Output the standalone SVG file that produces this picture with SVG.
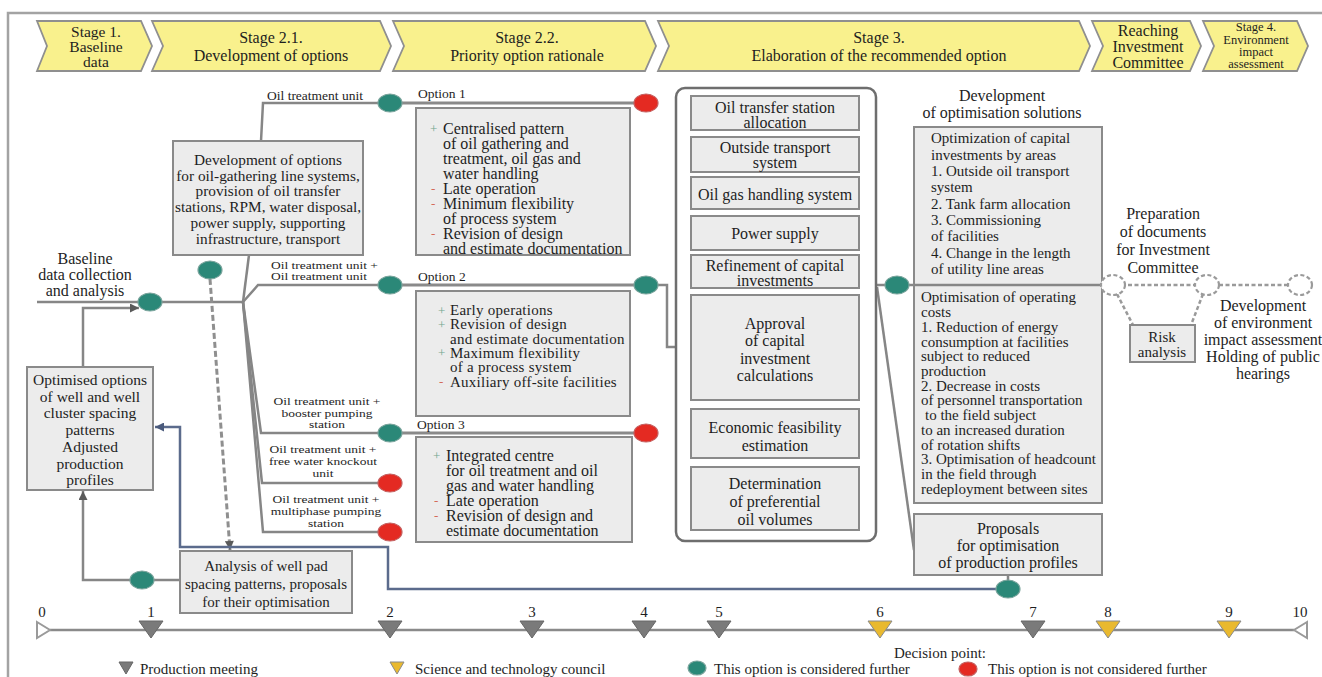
<svg xmlns="http://www.w3.org/2000/svg" width="1322" height="677" viewBox="0 0 1322 677">
<defs>
<style>
.t{font-family:"Liberation Serif","Times New Roman",serif;fill:#1e1e1e;dominant-baseline:central}
.m{text-anchor:middle}
.box{fill:#ececec;stroke:#8a8a8a;stroke-width:2}
.chev{fill:#f9f18d;stroke:#8f8f8f;stroke-width:1.8}
.ln{fill:none;stroke:#868686;stroke-width:2.5}
.opt{fill:none;stroke:#8a8a8a;stroke-width:3.2}
.go{fill:#2b8878;stroke:#7aa49c;stroke-width:1.2}
.no{fill:#e42a22;stroke:#c46060;stroke-width:1.2}
.dc{fill:#fff;stroke:#9a9a9a;stroke-width:2.2;stroke-dasharray:4 2.5}
.dl{fill:none;stroke:#9a9a9a;stroke-width:2.5;stroke-dasharray:4 2.5}
.tri{fill:#7a7a7a;stroke:#666;stroke-width:1}
.try{fill:#e9b92f;stroke:#8a8a8a;stroke-width:1}
.pl{fill:#6fa58f;font-size:13px}
.mi{fill:#d46a5a;font-size:13px}
</style>
<marker id="ag" viewBox="0 0 10 10" refX="10" refY="5" markerWidth="11" markerHeight="9" markerUnits="userSpaceOnUse" orient="auto"><path d="M0,0 L10,5 L0,10 z" fill="#5a5a5a"/></marker>
<marker id="ab" viewBox="0 0 10 10" refX="10" refY="5" markerWidth="11" markerHeight="9" markerUnits="userSpaceOnUse" orient="auto"><path d="M0,0 L10,5 L0,10 z" fill="#4a5a7c"/></marker>
</defs>

<path d="M8,690 L8,13 L1330,13" fill="none" stroke="#a3a3a3" stroke-width="2.5"/>

<g id="banner">
<polygon class="chev" points="37,21 141,21 152,46 141,71 37,71 47,46"/>
<text class="t m" font-size="15.5"><tspan x="96" y="31">Stage 1.</tspan><tspan x="96" y="46">Baseline</tspan><tspan x="96" y="61">data</tspan></text>
<polygon class="chev" points="152,21 380,21 391,46 380,71 152,71 163,46"/>
<text class="t m" font-size="16"><tspan x="271" y="37">Stage 2.1.</tspan><tspan x="271" y="55">Development of options</tspan></text>
<polygon class="chev" points="393,21 645,21 656,46 645,71 393,71 404,46"/>
<text class="t m" font-size="16"><tspan x="527" y="37">Stage 2.2.</tspan><tspan x="527" y="55">Priority option rationale</tspan></text>
<polygon class="chev" points="658,21 1079,21 1090,46 1079,71 658,71 669,46"/>
<text class="t m" font-size="16"><tspan x="879" y="37">Stage 3.</tspan><tspan x="879" y="55">Elaboration of the recommended option</tspan></text>
<polygon class="chev" points="1092,21 1190,21 1201,46 1190,71 1092,71 1103,46"/>
<text class="t m" font-size="16"><tspan x="1148" y="30">Reaching</tspan><tspan x="1148" y="46">Investment</tspan><tspan x="1148" y="62">Committee</tspan></text>
<polygon class="chev" points="1203,21 1297,21 1308,46 1297,71 1203,71 1214,46"/>
<text class="t m" font-size="12.5"><tspan x="1256" y="27">Stage 4.</tspan><tspan x="1256" y="39.5">Environment</tspan><tspan x="1256" y="52">impact</tspan><tspan x="1256" y="64">assessment</tspan></text>
</g>

<g id="connectors">
<path class="ln" d="M37,302 H243"/>
<path class="ln" d="M243,302 L249,255"/>
<path class="ln" d="M261,141 L263,103 H390"/>
<path class="ln" d="M243,302 L258,285 H390"/>
<path class="ln" d="M243,302 L261,433 H390"/>
<path class="ln" d="M243,302 L262,483 H390"/>
<path class="ln" d="M243,302 L263,532 H390"/>
<path class="ln" d="M83,367 V308 H139" marker-end="url(#ag)"/>
<path class="ln" d="M180,580 H83 V491" marker-end="url(#ag)"/>
<path d="M210,279 L230,550" fill="none" stroke="#8f8f8f" stroke-width="3" stroke-dasharray="6 3" marker-end="url(#ag)"/>
<path d="M1008,589 H388 V547 H180 V427 H155" fill="none" stroke="#5b6b8c" stroke-width="2.5" marker-end="url(#ab)"/>
<path class="opt" d="M390,103 H646"/>
<path class="opt" d="M390,285 H646"/>
<path class="opt" d="M390,433 H646"/>
<path class="ln" d="M646,285 H667 V347 H691"/>
<path class="ln" d="M876,285 H914"/>
<path class="ln" d="M877,287 L914,550"/>
<path class="ln" d="M1008,575 V589"/>
<path class="dl" d="M1102,285 H1300"/>
<path class="dl" d="M1117,294 L1133,325"/>
<path class="dl" d="M1203,294 L1191,325"/>
</g>

<g id="baseline-label">
<text class="t m" font-size="16"><tspan x="85" y="258">Baseline</tspan><tspan x="85" y="274">data collection</tspan><tspan x="85" y="290">and analysis</tspan></text>
</g>

<g id="development-options">
<rect class="box" x="173" y="141" width="190" height="114"/>
<text class="t m" font-size="15.3"><tspan x="268" y="159">Development of options</tspan><tspan x="268" y="174.5">for oil-gathering line systems,</tspan><tspan x="268" y="190">provision of oil transfer</tspan><tspan x="268" y="206">stations, RPM, water disposal,</tspan><tspan x="268" y="222">power supply, supporting</tspan><tspan x="268" y="237.5">infrastructure, transport</tspan></text>
</g>

<g id="optimised-options">
<rect class="box" x="27" y="367" width="126" height="123"/>
<text class="t m" font-size="15.5"><tspan x="90" y="379">Optimised options</tspan><tspan x="90" y="396">of well and well</tspan><tspan x="90" y="412">cluster spacing</tspan><tspan x="90" y="429">patterns</tspan><tspan x="90" y="446">Adjusted</tspan><tspan x="90" y="463">production</tspan><tspan x="90" y="479">profiles</tspan></text>
</g>

<g id="analysis">
<rect class="box" x="180" y="551" width="172" height="62"/>
<text class="t m" font-size="15"><tspan x="266" y="566">Analysis of well pad</tspan><tspan x="266" y="584">spacing patterns, proposals</tspan><tspan x="266" y="602">for their optimisation</tspan></text>
</g>

<g id="branch-labels">
<text class="t m" x="315" y="95" font-size="13.5">Oil treatment unit</text>
<text class="t" font-size="13.5" transform="translate(271,265.5) scale(1,0.78)"><tspan x="0" y="0">Oil treatment unit +</tspan><tspan x="0" y="14.7">Oil treatment unit</tspan></text>
<text class="t m" font-size="13.5" transform="translate(327,402) scale(1,0.78)"><tspan x="0" y="0">Oil treatment unit +</tspan><tspan x="0" y="14.7">booster pumping</tspan><tspan x="0" y="29.5">station</tspan></text>
<text class="t m" font-size="13.5" transform="translate(323,450) scale(1,0.78)"><tspan x="0" y="0">Oil treatment unit +</tspan><tspan x="0" y="15.4">free water knockout</tspan><tspan x="0" y="30.8">unit</tspan></text>
<text class="t m" font-size="13.5" transform="translate(326,500) scale(1,0.78)"><tspan x="0" y="0">Oil treatment unit +</tspan><tspan x="0" y="15.4">multiphase pumping</tspan><tspan x="0" y="30.1">station</tspan></text>
</g>

<g id="option1">
<text class="t" x="418" y="93" font-size="13.5">Option 1</text>
<rect class="box" x="416" y="108" width="214" height="147"/>
<text class="t pl" x="430" y="128">+</text>
<text class="t mi" x="431" y="188">-</text>
<text class="t mi" x="431" y="203">-</text>
<text class="t mi" x="431" y="233">-</text>
<text class="t" font-size="16"><tspan x="443" y="128">Centralised pattern</tspan><tspan x="443" y="143">of oil gathering and</tspan><tspan x="443" y="158">treatment, oil gas and</tspan><tspan x="443" y="173">water handling</tspan><tspan x="443" y="188">Late operation</tspan><tspan x="443" y="203">Minimum flexibility</tspan><tspan x="443" y="218">of process system</tspan><tspan x="443" y="233">Revision of design</tspan><tspan x="443" y="248">and estimate documentation</tspan></text>
</g>

<g id="option2">
<text class="t" x="418" y="276" font-size="13.5">Option 2</text>
<rect class="box" x="416" y="291" width="214" height="125"/>
<text class="t pl" x="438" y="310">+</text>
<text class="t pl" x="438" y="324.3">+</text>
<text class="t pl" x="438" y="352.9">+</text>
<text class="t mi" x="439" y="381.5">-</text>
<text class="t" font-size="15" letter-spacing="0.25"><tspan x="450" y="310">Early operations</tspan><tspan x="450" y="324.3">Revision of design</tspan><tspan x="450" y="338.6">and estimate documentation</tspan><tspan x="450" y="352.9">Maximum flexibility</tspan><tspan x="450" y="367.2">of a process system</tspan><tspan x="450" y="381.5">Auxiliary off-site facilities</tspan></text>
</g>

<g id="option3">
<text class="t" x="417" y="424" font-size="13.5">Option 3</text>
<rect class="box" x="416" y="437" width="216" height="105"/>
<text class="t pl" x="433" y="455">+</text>
<text class="t mi" x="434" y="500">-</text>
<text class="t mi" x="434" y="515">-</text>
<text class="t" font-size="16"><tspan x="446" y="455">Integrated centre</tspan><tspan x="446" y="470">for oil treatment and oil</tspan><tspan x="446" y="485">gas and water handling</tspan><tspan x="446" y="500">Late operation</tspan><tspan x="446" y="515">Revision of design and</tspan><tspan x="446" y="530">estimate documentation</tspan></text>
</g>

<g id="stage3-container">
<rect x="676" y="88" width="200" height="453" rx="9" fill="#fff" stroke="#6e6e6e" stroke-width="2.5"/>
</g>
<g id="s3-transfer"><rect class="box" x="691" y="96" width="168" height="34"/><text class="t m" font-size="16"><tspan x="775" y="106.5">Oil transfer station</tspan><tspan x="775" y="121.5">allocation</tspan></text></g>
<g id="s3-transport"><rect class="box" x="691" y="137" width="168" height="35"/><text class="t m" font-size="16"><tspan x="775" y="147">Outside transport</tspan><tspan x="775" y="162">system</tspan></text></g>
<g id="s3-gas"><rect class="box" x="691" y="177" width="168" height="32"/><text class="t m" x="775" y="194" font-size="16">Oil gas handling system</text></g>
<g id="s3-power"><rect class="box" x="691" y="216" width="168" height="34"/><text class="t m" x="775" y="233" font-size="16">Power supply</text></g>
<g id="s3-refinement"><rect class="box" x="691" y="255" width="168" height="33"/><text class="t m" font-size="16"><tspan x="775" y="264.5">Refinement of capital</tspan><tspan x="775" y="279.5">investments</tspan></text></g>
<g id="s3-approval"><rect class="box" x="691" y="295" width="168" height="105"/><text class="t m" font-size="16"><tspan x="775" y="323">Approval</tspan><tspan x="775" y="340">of capital</tspan><tspan x="775" y="358">investment</tspan><tspan x="775" y="375">calculations</tspan></text></g>
<g id="s3-economic"><rect class="box" x="691" y="409" width="168" height="49"/><text class="t m" font-size="16"><tspan x="775" y="427">Economic feasibility</tspan><tspan x="775" y="445">estimation</tspan></text></g>
<g id="s3-determination"><rect class="box" x="691" y="467" width="168" height="63"/><text class="t m" font-size="16"><tspan x="775" y="483">Determination</tspan><tspan x="775" y="501">of preferential</tspan><tspan x="775" y="519">oil volumes</tspan></text></g>

<g id="optimisation-solutions">
<text class="t m" font-size="16"><tspan x="1002" y="95">Development</tspan><tspan x="1002" y="112">of optimisation solutions</tspan></text>
<rect class="box" x="914" y="127" width="188" height="376"/>
<line x1="914" y1="285" x2="1102" y2="285" stroke="#868686" stroke-width="2.5"/>
<text class="t" font-size="15"><tspan x="931" y="138">Optimization of capital</tspan><tspan x="931" y="154.5">investments by areas</tspan><tspan x="931" y="171">1. Outside oil transport</tspan><tspan x="931" y="187">system</tspan><tspan x="931" y="204">2. Tank farm allocation</tspan><tspan x="931" y="220">3. Commissioning</tspan><tspan x="931" y="236">of facilities</tspan><tspan x="931" y="253">4. Change in the length</tspan><tspan x="931" y="269">of utility line areas</tspan></text>
<text class="t" font-size="15"><tspan x="921" y="297">Optimisation of operating</tspan><tspan x="921" y="311.5">costs</tspan><tspan x="921" y="326.5">1. Reduction of energy</tspan><tspan x="921" y="341.5">consumption at facilities</tspan><tspan x="921" y="356">subject to reduced</tspan><tspan x="921" y="371">production</tspan><tspan x="921" y="385.5">2. Decrease in costs</tspan><tspan x="921" y="400">of personnel transportation</tspan><tspan x="925" y="415">to the field subject</tspan><tspan x="921" y="430">to an increased duration</tspan><tspan x="921" y="444.5">of rotation shifts</tspan><tspan x="921" y="459">3. Optimisation of headcount</tspan><tspan x="921" y="474">in the field through</tspan><tspan x="921" y="489">redeployment between sites</tspan></text>
</g>

<g id="proposals">
<rect class="box" x="914" y="514" width="188" height="61"/>
<text class="t m" font-size="16"><tspan x="1008" y="528">Proposals</tspan><tspan x="1008" y="545">for optimisation</tspan><tspan x="1008" y="562">of production profiles</tspan></text>
</g>

<g id="preparation">
<text class="t m" font-size="16"><tspan x="1163" y="213">Preparation</tspan><tspan x="1163" y="231">of documents</tspan><tspan x="1163" y="249">for Investment</tspan><tspan x="1163" y="267">Committee</tspan></text>
</g>

<g id="risk">
<rect class="box" x="1130" y="325" width="65" height="37"/>
<text class="t m" font-size="15"><tspan x="1162" y="337">Risk</tspan><tspan x="1162" y="352">analysis</tspan></text>
</g>

<g id="environment">
<text class="t m" font-size="16"><tspan x="1263" y="305">Development</tspan><tspan x="1263" y="322">of environment</tspan><tspan x="1263" y="339">impact assessment</tspan><tspan x="1263" y="356">Holding of public</tspan><tspan x="1263" y="373">hearings</tspan></text>
</g>

<g id="decision-points">
<ellipse class="go" cx="150" cy="302" rx="12" ry="9"/>
<ellipse class="go" cx="210" cy="270" rx="12" ry="9"/>
<ellipse class="go" cx="142" cy="580" rx="12" ry="9"/>
<ellipse class="go" cx="390" cy="103" rx="12" ry="9"/>
<ellipse class="go" cx="390" cy="285" rx="12" ry="9"/>
<ellipse class="go" cx="390" cy="433" rx="12" ry="9"/>
<ellipse class="no" cx="390" cy="483" rx="12" ry="9"/>
<ellipse class="no" cx="390" cy="532" rx="12" ry="9"/>
<ellipse class="no" cx="646" cy="103" rx="12" ry="9"/>
<ellipse class="go" cx="646" cy="285" rx="12" ry="9"/>
<ellipse class="no" cx="646" cy="433" rx="12" ry="9"/>
<ellipse class="go" cx="897" cy="285" rx="12" ry="9"/>
<ellipse class="go" cx="1008" cy="589" rx="12" ry="9"/>
<ellipse class="dc" cx="1113" cy="285" rx="12" ry="10"/>
<ellipse class="dc" cx="1207" cy="285" rx="12" ry="10"/>
<ellipse class="dc" cx="1300" cy="285" rx="12" ry="10"/>
</g>

<g id="timeline">
<line x1="50" y1="630" x2="1294" y2="630" stroke="#8a8a8a" stroke-width="2.5"/>
<polygon points="37,622 50,630 37,638" fill="#fff" stroke="#9a9a9a" stroke-width="2"/>
<polygon points="1307,622 1294,630 1307,638" fill="#fff" stroke="#9a9a9a" stroke-width="2"/>
<polygon class="tri" points="139,621 163,621 151,638"/>
<polygon class="tri" points="378,621 402,621 390,638"/>
<polygon class="tri" points="520,621 544,621 532,638"/>
<polygon class="tri" points="632,621 656,621 644,638"/>
<polygon class="tri" points="707,621 731,621 719,638"/>
<polygon class="try" points="868,621 892,621 880,638"/>
<polygon class="tri" points="1021,621 1045,621 1033,638"/>
<polygon class="try" points="1096,621 1120,621 1108,638"/>
<polygon class="try" points="1217,621 1241,621 1229,638"/>
<g font-size="15">
<text class="t m" x="42" y="612">0</text>
<text class="t m" x="151" y="612">1</text>
<text class="t m" x="390" y="612">2</text>
<text class="t m" x="532" y="612">3</text>
<text class="t m" x="644" y="612">4</text>
<text class="t m" x="719" y="612">5</text>
<text class="t m" x="880" y="612">6</text>
<text class="t m" x="1033" y="612">7</text>
<text class="t m" x="1108" y="612">8</text>
<text class="t m" x="1229" y="612">9</text>
<text class="t m" x="1300" y="612">10</text>
</g>
</g>

<g id="legend">
<polygon class="tri" points="119,662 133,662 126,674"/>
<text class="t" x="140" y="669" font-size="15">Production meeting</text>
<polygon class="try" points="390,662 404,662 397,674"/>
<text class="t" x="415" y="669" font-size="15">Science and technology council</text>
<text class="t m" x="940" y="653" font-size="15">Decision point:</text>
<ellipse class="go" cx="697" cy="668" rx="9" ry="7"/>
<text class="t" x="714" y="669" font-size="15">This option is considered further</text>
<ellipse class="no" cx="968" cy="669" rx="9" ry="7"/>
<text class="t" x="988" y="669" font-size="15">This option is not considered further</text>
</g>
</svg>
